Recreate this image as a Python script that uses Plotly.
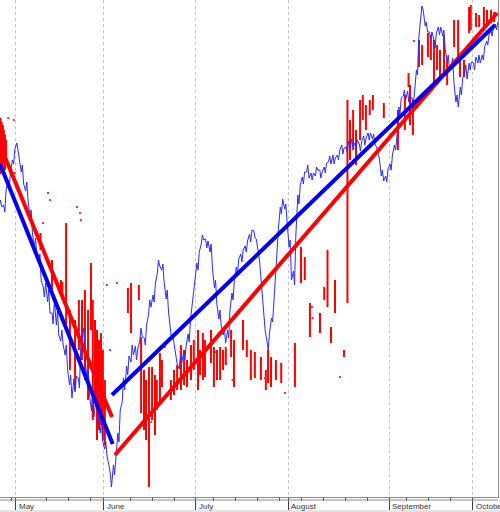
import pandas as pd
import plotly.graph_objects as go

# sessions with no bars on the chart (feed gaps + exchange holidays)
CLOSED = ["2012-05-07", "2012-05-08", "2012-05-28", "2012-07-04", "2012-09-03"]
SESSIONS = [d for d in pd.bdate_range("2012-04-25", "2012-10-08").strftime("%Y-%m-%d")
            if d not in CLOSED]

# blue price line, three readings per session (morning / midday / afternoon)
BLUE_AM = [
    295, 295, 320, 340,
    357, 328, 309, 283, 252, 238, 213, 198, 187, 175, 159, 145, 115, 121, 122, 166, 119, 89, 100, 67,
    51, 35, 35, 67, 98, 134, 138, 154, 159, 162, 186, 205, 227, 230, 201, 172, 152, 131, 148, 166, 199,
    237, 256, 261, 248, 212, 181, 165, 170, 207, 233, 246, 254, 266, 269, 247, 196, 158, 182, 240, 293, 291,
    253, 229, 305, 323, 328, 327, 324, 330, 333, 338, 345, 345, 355, 353, 352, 357, 356, 364, 367, 361, 352, 324, 324,
    336, 355, 393, 404, 409, 402, 430, 489, 474, 468, 460, 473, 464, 439, 435, 398, 413, 427, 437,
    437, 437, 445, 459, 470, 476,
]
BLUE_MID = [
    300, 288, 312, 336,
    350, 335, 318, 290, 262, 246, 203, 210, 176, 190, 170, 155, 125, 108, 112, 172, 130, 110, 92, 80,
    58, 28, 25, 58, 122, 125, 155, 140, 172, 155, 200, 198, 240, 236, 210, 160, 145, 145, 140, 158, 205,
    230, 265, 252, 256, 220, 190, 172, 162, 200, 226, 238, 248, 258, 262, 240, 188, 150, 178, 248, 286, 296,
    260, 215, 296, 316, 335, 320, 333, 322, 327, 344, 336, 340, 346, 348, 361, 350, 349, 355, 360, 366, 346, 330, 318,
    330, 350, 385, 410, 398, 396, 425, 494, 478, 460, 452, 465, 470, 445, 442, 405, 405, 435, 430,
    430, 445, 440, 455, 464, 470,
]
BLUE_PM = [
    293, 310, 329, 351,
    342, 316, 300, 267, 244, 219, 217, 187, 199, 165, 155, 131, 102, 124, 153, 140, 105, 83, 80, 59,
    44, 13, 45, 90, 110, 144, 145, 151, 164, 175, 193, 216, 234, 218, 188, 164, 135, 137, 154, 180, 215,
    248, 260, 259, 232, 196, 174, 157, 190, 221, 241, 250, 259, 270, 261, 225, 170, 167, 202, 270, 301, 278,
    220, 265, 315, 328, 322, 327, 330, 328, 337, 336, 342, 350, 352, 359, 353, 360, 359, 362, 367, 356, 342, 319, 331,
    345, 362, 402, 400, 403, 406, 462, 490, 468, 468, 467, 473, 451, 431, 418, 393, 422, 421, 438,
    443, 437, 453, 465, 472, 478,
]

# red vertical bars: time, top, bottom
RED_BAR_TIME = [
    "2012-04-25 12:00", "2012-04-25 18:00", "2012-04-26 00:00", "2012-04-26 06:00", "2012-04-26 12:00",
    "2012-04-26 18:00",
    "2012-05-10 14:00", "2012-05-15 05:00", "2012-05-17 06:00", "2012-05-17 14:00", "2012-05-18 10:00",
    "2012-05-21 07:00", "2012-05-22 11:00", "2012-05-23 08:00", "2012-05-24 01:00", "2012-05-24 17:00",
    "2012-05-25 10:00", "2012-05-29 02:00", "2012-05-29 12:00", "2012-05-30 00:00", "2012-05-30 11:00",
    "2012-05-30 22:00", "2012-05-31 09:00", "2012-05-31 19:00", "2012-06-01 06:00",
    "2012-06-08 12:00", "2012-06-11 05:00", "2012-06-13 00:00", "2012-06-13 12:00", "2012-06-14 04:00",
    "2012-06-14 15:00", "2012-06-15 07:00", "2012-06-18 00:00", "2012-06-18 16:00", "2012-06-19 02:00",
    "2012-06-19 19:00", "2012-06-20 06:00", "2012-06-22 07:00", "2012-06-25 00:00", "2012-06-25 17:00",
    "2012-06-26 14:00", "2012-06-27 07:00", "2012-06-27 23:00", "2012-06-28 21:00", "2012-06-29 12:00",
    "2012-07-02 11:00", "2012-07-02 22:00", "2012-07-03 14:00", "2012-07-05 01:00", "2012-07-06 10:00",
    "2012-07-09 02:00", "2012-07-09 19:00", "2012-07-10 12:00", "2012-07-11 04:00", "2012-07-11 19:00",
    "2012-07-13 00:00", "2012-07-13 16:00", "2012-07-17 17:00", "2012-07-18 14:00", "2012-07-19 12:00",
    "2012-07-20 10:00", "2012-07-23 19:00", "2012-07-24 22:00", "2012-07-25 10:00", "2012-07-26 02:00",
    "2012-07-27 05:00", "2012-07-30 10:00",
    "2012-08-02 13:00", "2012-08-03 22:00", "2012-08-06 19:00", "2012-08-07 23:00", "2012-08-10 06:00",
    "2012-08-13 05:00", "2012-08-13 23:00", "2012-08-14 18:00", "2012-08-15 16:00", "2012-08-17 17:00",
    "2012-08-20 12:00", "2012-08-21 02:00", "2012-08-21 19:00", "2012-08-22 11:00", "2012-08-23 09:00",
    "2012-08-24 00:00", "2012-08-24 17:00", "2012-08-27 14:00", "2012-08-28 07:00", "2012-08-30 19:00",
    "2012-09-06 00:00", "2012-09-07 14:00", "2012-09-10 10:00", "2012-09-10 18:00", "2012-09-11 10:00",
    "2012-09-12 19:00", "2012-09-13 12:00", "2012-09-14 20:00", "2012-09-17 12:00", "2012-09-18 05:00",
    "2012-09-18 22:00", "2012-09-19 14:00", "2012-09-20 12:00", "2012-09-21 05:00", "2012-09-24 19:00",
    "2012-09-25 17:00", "2012-09-26 03:00", "2012-09-27 01:00", "2012-09-28 05:00", "2012-09-28 14:00",
    "2012-10-01 19:00", "2012-10-02 12:00", "2012-10-03 14:00", "2012-10-04 07:00", "2012-10-05 05:00",
    "2012-10-05 22:00",
]
RED_BAR_HIGH = [
    382, 378, 375, 370, 365, 360,
    267, 240, 220, 218, 277, 190, 180, 200, 200, 210, 190, 237, 200, 180, 170, 160, 167, 150, 120,
    212, 217, 215, 163, 130, 120, 133, 133, 125, 120, 147, 140, 120, 130, 135, 155, 150, 140, 155, 160,
    170, 150, 167, 160, 170, 153, 150, 153, 150, 153, 170, 160, 180, 160, 150, 148, 143, 130, 150, 143,
    140, 137,
    157, 253, 243, 197, 187, 213, 250, 173, 220, 150, 400, 380, 390, 370, 400, 405, 395, 400, 405, 397,
    390, 405, 427, 415, 400, 460, 455, 467, 465, 460, 455, 450, 465, 440, 480, 480, 440, 440, 493, 495,
    487, 485, 493, 490, 490, 488,
]
RED_BAR_LOW = [
    326, 330, 332, 335, 330, 338,
    250, 210, 210, 200, 170, 130, 110, 150, 140, 120, 100, 170, 80, 100, 60, 70, 75, 60, 55,
    187, 167, 200, 87, 70, 60, 13, 80, 65, 90, 97, 113, 100, 105, 110, 110, 115, 113, 120, 130,
    110, 125, 120, 123, 137, 113, 120, 120, 130, 135, 143, 113, 150, 143, 120, 122, 120, 110, 117, 113,
    120, 117,
    113, 217, 220, 163, 167, 200, 193, 157, 187, 143, 197, 340, 350, 335, 360, 380, 370, 385, 390, 382,
    350, 370, 413, 375, 365, 433, 435, 443, 440, 417, 430, 420, 425, 415, 453, 440, 423, 423, 467, 470,
    473, 473, 473, 475, 477, 478,
]

# isolated red ticks
RED_DOT_TIME = [
    "2012-04-27 06:00", "2012-04-30 12:00", "2012-04-30 18:00", "2012-05-11 04:00", "2012-05-14 07:00",
    "2012-05-14 18:00", "2012-05-22 21:00", "2012-05-23 14:00", "2012-05-23 19:00", "2012-06-01 17:00",
    "2012-06-04 10:00", "2012-06-06 00:00", "2012-06-15 20:00", "2012-06-20 22:00", "2012-06-26 10:00",
    "2012-07-09 12:00", "2012-07-13 08:00", "2012-07-24 17:00", "2012-07-31 07:00", "2012-08-08 10:00",
    "2012-08-08 14:00", "2012-08-16 19:00", "2012-09-11 16:00",
]
RED_DOT_LEVEL = [
    382, 380, 327, 277, 307, 300, 293, 287, 280, 215, 150, 217, 78, 153, 148, 148, 120, 122, 107, 193,
    182, 123, 459,
]

# fitted trend channels (two legs each)
RED_TREND_TIME = ["2012-04-25 08:45", "2012-06-04 21:00", None, "2012-06-05 13:00", "2012-10-08 14:00"]
RED_TREND_LEVEL = [355, 83, None, 45, 487]
BLUE_TREND_TIME = ["2012-04-25 08:45", "2012-06-05 01:00", None, "2012-06-04 21:00", "2012-10-08 03:00"]
BLUE_TREND_LEVEL = [336, 56, None, 105, 475]

MONTH_TICKS = ["2012-05-01", "2012-06-01", "2012-07-02", "2012-08-01", "2012-09-04", "2012-10-01"]
MONTH_LABELS = ["May", "June", "July", "August", "September", "October"]
WEEK_TICKS = ["2012-04-30", "2012-05-14", "2012-05-21", "2012-05-29", "2012-06-11", "2012-06-18",
              "2012-06-25", "2012-07-09", "2012-07-16", "2012-07-23", "2012-07-30", "2012-08-06",
              "2012-08-13", "2012-08-20", "2012-08-27", "2012-09-10", "2012-09-17", "2012-09-24"]

blue_x, blue_y = [], []
for day, am, mid, pm in zip(SESSIONS, BLUE_AM, BLUE_MID, BLUE_PM):
    blue_x += [day + " 05:00", day + " 11:00", day + " 18:00"]
    blue_y += [am, mid, pm]

bar_x, bar_y = [], []
for t, hi, lo in zip(RED_BAR_TIME, RED_BAR_HIGH, RED_BAR_LOW):
    bar_x += [t, t, None]
    bar_y += [lo, hi, None]

fig = go.Figure()
fig.add_trace(go.Scatter(x=bar_x, y=bar_y, mode="lines",
                         line=dict(color="#ff0000", width=2), hoverinfo="skip"))
fig.add_trace(go.Scatter(x=RED_DOT_TIME, y=RED_DOT_LEVEL, mode="markers",
                         marker=dict(color="#ff3030", size=2, symbol="square"), hoverinfo="skip"))
fig.add_trace(go.Scatter(x=blue_x, y=blue_y, mode="lines",
                         line=dict(color="#2a2aff", width=1)))
fig.add_trace(go.Scatter(x=RED_TREND_TIME, y=RED_TREND_LEVEL, mode="lines",
                         line=dict(color="#ff0000", width=4)))
fig.add_trace(go.Scatter(x=BLUE_TREND_TIME, y=BLUE_TREND_LEVEL, mode="lines",
                         line=dict(color="#0000ee", width=4)))

for tick, label in zip(MONTH_TICKS, MONTH_LABELS):
    fig.add_annotation(x=tick, xref="x", y=0, yref="paper", text=label, showarrow=False,
                       xanchor="left", yanchor="top", xshift=1, yshift=-3,
                       font=dict(size=8, color="#333333", family="Liberation Sans, Arial"))

# second rule of the time scale and the grey strip under it
fig.add_shape(type="line", xref="paper", x0=0, x1=1, yref="paper", y0=-3 / 497, y1=-3 / 497,
              line=dict(color="#8c8c8c", width=1))
fig.add_shape(type="rect", xref="paper", x0=0, x1=500 / 498, yref="paper", y0=-13 / 497, y1=-16 / 497,
              fillcolor="#e4e4e4", line=dict(width=0))

fig.update_layout(
    width=500, height=512,
    margin=dict(l=0, r=2, t=0, b=15),
    paper_bgcolor="white", plot_bgcolor="white",
    showlegend=False,
    xaxis=dict(
        type="date",
        range=["2012-04-25 08:45", "2012-10-08 19:00"],
        rangebreaks=[dict(bounds=["sat", "mon"]), dict(values=CLOSED)],
        tickmode="array", tickvals=MONTH_TICKS, showticklabels=False,
        ticks="outside", ticklen=12, tickcolor="#404040", tickwidth=1,
        showgrid=True, gridcolor="#c4c4c4", griddash="dot", gridwidth=1,
        showline=True, linecolor="#8c8c8c", linewidth=1, zeroline=False,
        minor=dict(tickmode="array", tickvals=WEEK_TICKS, ticks="outside", ticklen=3,
                   tickcolor="#404040", showgrid=False),
    ),
    yaxis=dict(
        range=[3, 500], side="right", showline=True, linecolor="#8c8c8c", linewidth=1,
        showgrid=False, showticklabels=False, ticks="", zeroline=False,
    ),
)

# the page must not add its own 8px body margin around the 500x512 chart
fig.write_html("out.html", config={"displayModeBar": False},
               post_script="document.body.style.margin='0';document.body.style.overflow='hidden';")
